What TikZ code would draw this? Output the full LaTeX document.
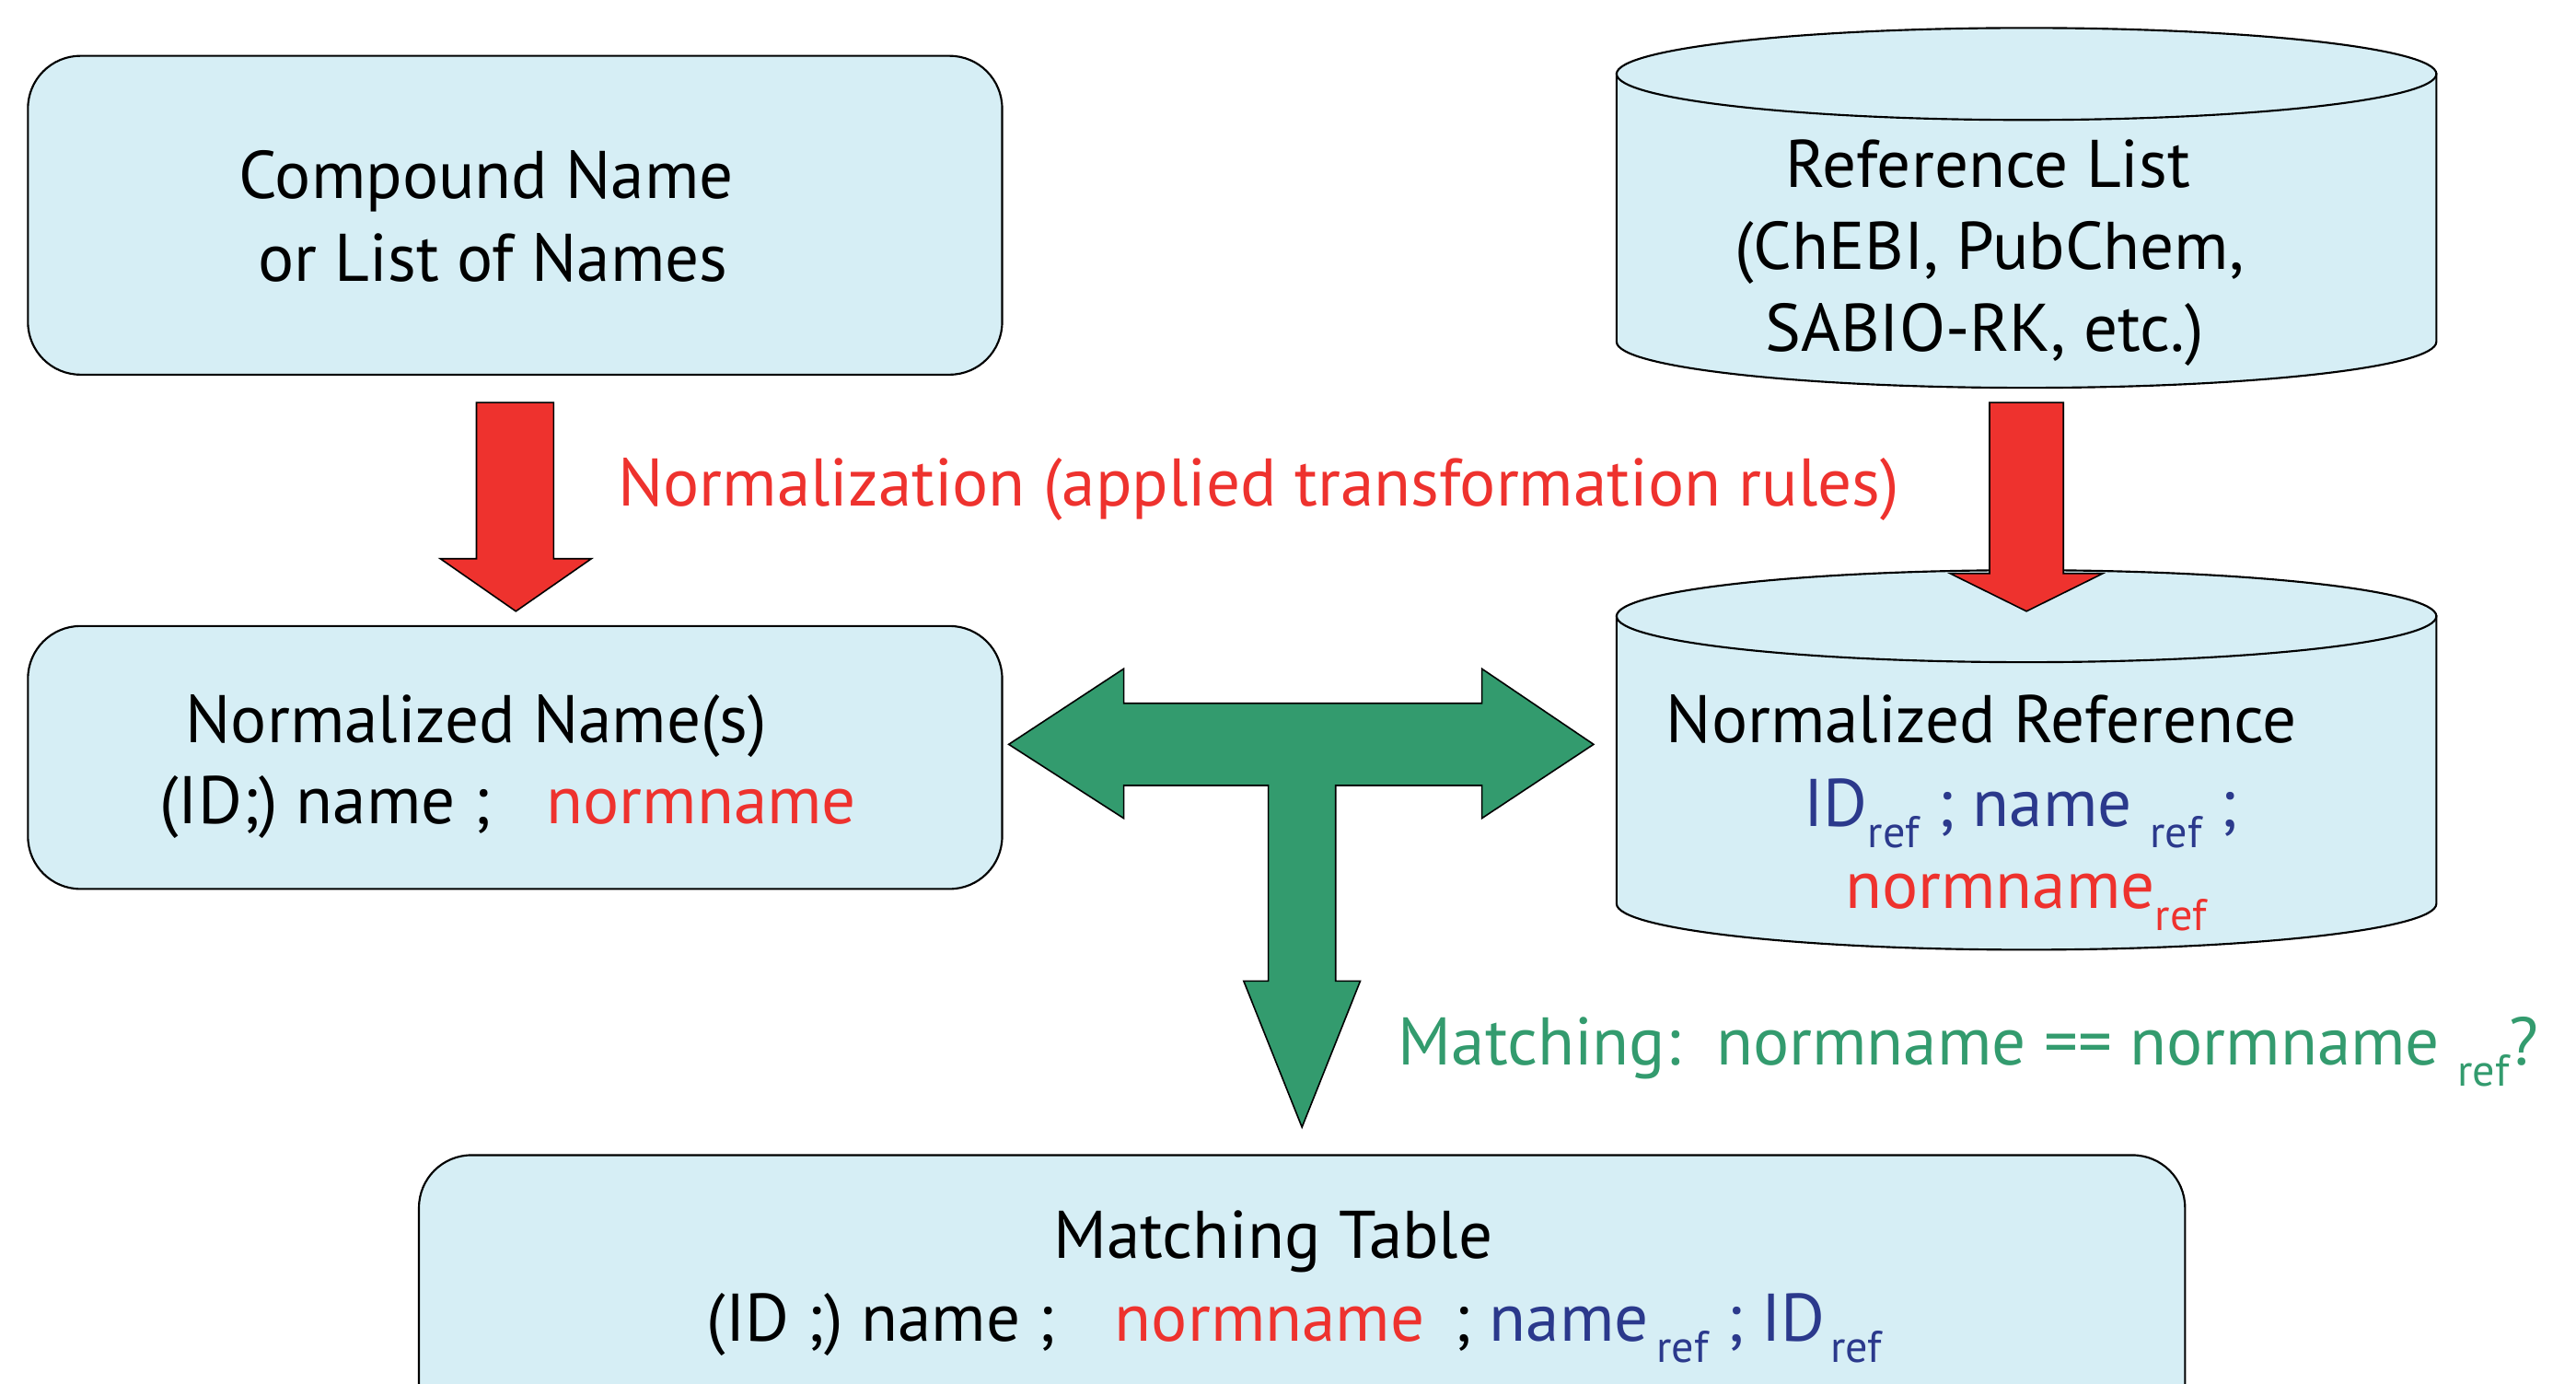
\documentclass[tikz,border=0pt]{standalone}
\usepackage{fontspec}
\setmainfont{PT Sans}
\definecolor{boxfill}{RGB}{214,238,245}
\definecolor{arrowred}{RGB}{238,50,46}
\definecolor{arrowgreen}{RGB}{51,155,110}
\definecolor{refblue}{RGB}{43,57,140}
\newcommand{\refsub}{\raisebox{-0.32em}{\fontsize{27}{27}\selectfont ref}}
\tikzset{
  panel/.style={draw=black, line width=1.2pt, fill=boxfill, rounded corners=32pt,
    inner sep=0pt},
  lbl/.style={inner sep=0pt, font=\fontsize{41}{48}\selectfont, anchor=base},
  blockred/.style={draw=black, line width=0.9pt, fill=arrowred},
  blockgreen/.style={draw=black, line width=0.9pt, fill=arrowgreen},
  drum/.style={draw=black, line width=1.2pt, fill=boxfill},
}
\begin{document}
\begin{tikzpicture}[x=1pt,y=-1pt]
\useasboundingbox (0,0) rectangle (1568,842);
\clip (0,0) rectangle (1568,842);

% input names box
\node[panel, minimum width=593pt, minimum height=194pt] (names) at (313.5,131) {};
\node[lbl] (namesA) at (296,121) {Compound Name};
\node[lbl] (namesB) at (300,171) {or List of Names};

% reference list drum
\path[drum] (984,45) -- (984,208) arc[start angle=180, end angle=0, x radius=249.5, y radius=28] -- (1483,45) -- cycle;
\draw[drum] (1233.5,45) ellipse[x radius=249.5, y radius=28];
\node[inner sep=0pt, minimum width=499pt, minimum height=219pt] (reflist) at (1233.5,126.5) {};
\node[lbl] (refA) at (1210,114) {Reference List};
\node[lbl] (refB) at (1211,164) {(ChEBI, PubChem,};
\node[lbl] (refC) at (1208,214) {SABIO-RK, etc.)};

% normalized names box
\node[panel, minimum width=593pt, minimum height=160pt] (normnames) at (313.5,461) {};
\node[lbl] (nnA) at (290,452) {Normalized Name(s)};
\node[lbl, anchor=base west] (nnB) at (97,501) {(ID;) name ;\hspace{34pt}\textcolor{arrowred}{normname}};

% normalized reference drum
\path[drum] (984,375) -- (984,550) arc[start angle=180, end angle=0, x radius=249.5, y radius=28] -- (1483,375) -- cycle;
\draw[drum] (1233.5,375) ellipse[x radius=249.5, y radius=28];
\node[inner sep=0pt, minimum width=499pt, minimum height=231pt] (normref) at (1233.5,462.5) {};
\node[lbl, anchor=base west] (nrA) at (1014,452) {Normalized Reference};
\node[lbl, anchor=base west, text=refblue] (nrB) at (1098,503) {ID\refsub\ ; name \refsub\ ;};
\node[lbl, anchor=base west, text=arrowred] (nrC) at (1123,553) {normname\refsub};

% matching table box (runs past the lower edge)
\node[panel, minimum width=1075pt, minimum height=190pt] (table) at (792.5,798) {};
\node[lbl] (tbA) at (775,766) {Matching Table};
\node[lbl, anchor=base west] (tbB) at (430,816) {(ID ;) name ;\hspace{36pt}\textcolor{arrowred}{normname}\hspace{18pt}; \textcolor{refblue}{name\hspace{5pt}\refsub\ ; ID\hspace{3pt}\refsub}};

% normalization arrows
\draw[blockred] (290,245) -- (337,245) -- (337,340) -- (360,340) -- (314,372)
  -- (268,340) -- (290,340) -- cycle;
\draw[blockred] (1211,245) -- (1256,245) -- (1256,349) -- (1280,349) -- (1233.5,372)
  -- (1187,349) -- (1211,349) -- cycle;
\node[lbl, anchor=base west, text=arrowred] (normlabel) at (376,308) {Normalization (applied transformation rules)};

% matching T-arrow
\draw[blockgreen] (614,453) -- (684,407) -- (684,428) -- (902,428) -- (902,407)
  -- (970,453) -- (902,498) -- (902,478) -- (813,478) -- (813,597) -- (828,597)
  -- (792.5,686) -- (757,597) -- (772,597) -- (772,478) -- (684,478) -- (684,498) -- cycle;
\node[lbl, anchor=base west, text=arrowgreen] (matchlabel) at (851,648) {Matching:\hspace{22pt}normname == normname \refsub?};
\end{tikzpicture}
\end{document}
